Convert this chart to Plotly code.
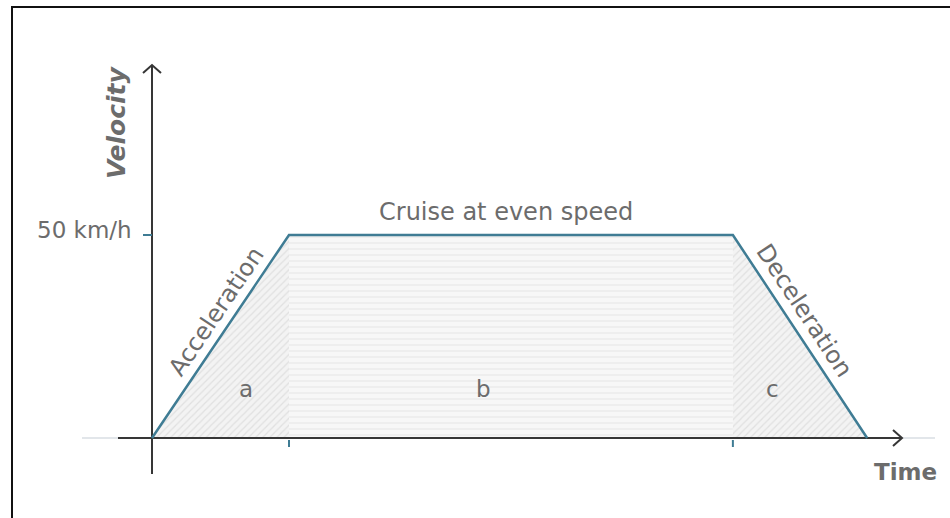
import plotly.graph_objects as go

# Trip profile: time breakpoints (arbitrary units) and speed at each (km/h)
phase_times = [0, 10, 42.4, 52.2]
phase_speeds = [0, 50, 50, 0]
cruise_speed = 50
speed_tick_label = "50 km/h"
area_labels = ["a", "b", "c"]
phase_names = ["Acceleration", "Cruise at even speed", "Deceleration"]
axis_titles = ["Time", "Velocity"]

W, H = 950, 518
# axis scaling: pixels per unit
PX_T = 13.7
PX_V = 4.06
x_min = -152 / PX_T
x_max = x_min + W / PX_T
y_min = -(H - 438) / PX_V
y_max = y_min + H / PX_V

LINE = "#3f7c94"
AXIS = "#363636"
TEXT = "#6c6c6c"
FONT = "DejaVu Sans"

fig = go.Figure()

t0, t1, t2, t3 = phase_times
v = cruise_speed

# shaded areas under the curve
hatch = dict(shape="/", bgcolor="#f3f3f3", fgcolor="#cdcdcd", size=5, solidity=0.25)
fig.add_trace(go.Scatter(
    x=[t0, t1, t1, t0], y=[0, v, 0, 0], mode="lines", fill="toself",
    line=dict(width=0), fillcolor="#f2f2f2", fillpattern=hatch, hoverinfo="skip"))
fig.add_trace(go.Scatter(
    x=[t1, t2, t2, t1, t1], y=[0, 0, v, v, 0], mode="lines", fill="toself",
    line=dict(width=0), fillcolor="#f6f6f6",
    fillpattern=dict(shape="-", bgcolor="#f7f7f7", fgcolor="#e2e2e2", size=6, solidity=0.3),
    hoverinfo="skip"))
fig.add_trace(go.Scatter(
    x=[t2, t3, t2, t2], y=[v, 0, 0, v], mode="lines", fill="toself",
    line=dict(width=0), fillcolor="#f2f2f2", fillpattern=hatch, hoverinfo="skip"))

# axes drawn as lines with open arrow heads
ax_x0, ax_x1 = -34 / PX_T, 750 / PX_T
ax_y0, ax_y1 = -36 / PX_V, 373 / PX_V
fig.add_trace(go.Scatter(x=[-70 / PX_T, 783 / PX_T], y=[0, 0], mode="lines",
                         line=dict(color="#e2e6ea", width=2), hoverinfo="skip"))
fig.add_trace(go.Scatter(x=[ax_x0, ax_x1], y=[0, 0], mode="lines",
                         line=dict(color=AXIS, width=2), hoverinfo="skip"))
fig.add_trace(go.Scatter(x=[0, 0], y=[ax_y0, ax_y1], mode="lines",
                         line=dict(color=AXIS, width=2), hoverinfo="skip"))
arm_a, arm_b = 9, 8
fig.add_trace(go.Scatter(
    x=[ax_x1 - arm_a / PX_T, ax_x1, ax_x1 - arm_a / PX_T],
    y=[arm_b / PX_V, 0, -arm_b / PX_V], mode="lines",
    line=dict(color=AXIS, width=2), hoverinfo="skip"))
fig.add_trace(go.Scatter(
    x=[-arm_a / PX_T, 0, arm_a / PX_T],
    y=[ax_y1 - arm_b / PX_V, ax_y1, ax_y1 - arm_b / PX_V], mode="lines",
    line=dict(color=AXIS, width=2), hoverinfo="skip"))

# tick marks
fig.add_trace(go.Scatter(x=[-9 / PX_T, 0], y=[v, v], mode="lines",
                         line=dict(color=LINE, width=2), hoverinfo="skip"))
for t in (t1, t2):
    fig.add_trace(go.Scatter(x=[t, t], y=[-2 / PX_V, -9 / PX_V], mode="lines",
                             line=dict(color=LINE, width=2), hoverinfo="skip"))

# velocity profile
fig.add_trace(go.Scatter(x=phase_times, y=phase_speeds, mode="lines",
                         line=dict(color=LINE, width=2.5), hoverinfo="skip"))

def px_to_t(px):
    return (px - 152) / PX_T

def px_to_v(py):
    return (438 - py) / PX_V

def label(text, px, py, size=22, angle=0, color=TEXT, **kw):
    fig.add_annotation(x=px_to_t(px), y=px_to_v(py), text=text, showarrow=False,
                       textangle=angle, font=dict(family=FONT, size=size, color=color),
                       xanchor=kw.get("xanchor", "center"), yanchor="middle")

label(speed_tick_label, 134, 230, size=23, xanchor="right")
label(phase_names[0], 216, 312, size=24, angle=-56)
label(phase_names[1], 506, 212, size=24)
label(phase_names[2], 804, 310, size=24, angle=56.6)
label(area_labels[0], 246, 389, size=23)
label(area_labels[1], 483, 389, size=23)
label(area_labels[2], 772, 389, size=23)
label("<b>" + axis_titles[0] + "</b>", 905, 472, size=23)
label("<b><i>" + axis_titles[1] + "</i></b>", 116, 122, size=25, angle=-90)

# frame
fig.add_shape(type="rect", xref="paper", yref="paper",
              x0=12 / W, x1=1.05, y0=-0.05, y1=1 - 7 / H,
              line=dict(color="#111111", width=2))

fig.update_layout(
    width=W, height=H, margin=dict(l=0, r=0, t=0, b=0),
    paper_bgcolor="white", plot_bgcolor="white", showlegend=False,
    xaxis=dict(range=[x_min, x_max], visible=False, fixedrange=True),
    yaxis=dict(range=[y_min, y_max], visible=False, fixedrange=True),
)

fig.write_html("out.html")
